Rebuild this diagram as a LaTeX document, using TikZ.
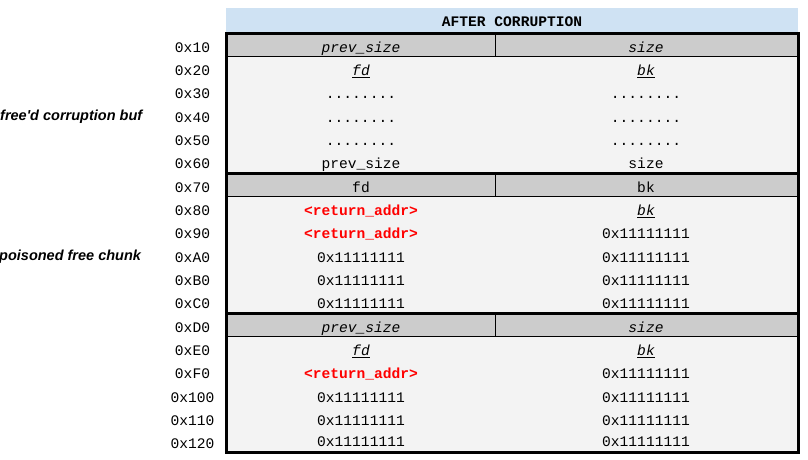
\documentclass[tikz,border=0pt]{standalone}
\usepackage{fontspec}
\setmainfont{Liberation Sans}
\setmonofont{Liberation Mono}
\definecolor{hdrblue}{HTML}{CFE2F3}
\definecolor{hdrgray}{HTML}{CCCCCC}
\definecolor{cellgray}{HTML}{F3F3F3}
\definecolor{retred}{HTML}{FF0000}
\begin{document}
\begin{tikzpicture}[x=1pt,y=-1pt,
  mono/.style={font=\fontsize{14.6}{16}\selectfont\ttfamily, inner sep=0pt, anchor=base},
  ret/.style={mono, font=\fontsize{14.6}{16}\selectfont\ttfamily\bfseries, text=retred},
  side/.style={font=\fontsize{14.5}{16}\selectfont\bfseries\itshape, inner sep=0pt, anchor=base west},
  thin/.style={line width=1pt},
  thick/.style={line width=3pt}]
\useasboundingbox (0,0) rectangle (808,459);
% header
\fill[hdrblue] (226,8) rectangle (798,32);
\node[mono, font=\fontsize{14.6}{16}\selectfont\ttfamily\bfseries] (title) at (512,26) {AFTER CORRUPTION};
% cells background
\fill[cellgray] (227,33) rectangle (797,453);
% gray header rows
\fill[hdrgray] (227,33) rectangle (797,56.3);
\fill[hdrgray] (227,173) rectangle (797,196.3);
\fill[hdrgray] (227,313) rectangle (797,336.3);
% thin lines
\draw[thin] (227,56.3) -- (797,56.3);
\draw[thin] (227,196.3) -- (797,196.3);
\draw[thin] (227,336.3) -- (797,336.3);
\draw[thin] (495.5,33) -- (495.5,56.3);
\draw[thin] (495.5,173) -- (495.5,196.3);
\draw[thin] (495.5,313) -- (495.5,336.3);
% chunk separators and border
\draw[thick] (226,173) -- (798,173);
\draw[thick] (226,313) -- (798,313);
\draw[thick] (226,33) rectangle (798,452.5);
% addresses
\foreach \a [count=\i from 0] in {0x10,0x20,0x30,0x40,0x50,0x60,0x70,0x80,0x90,0xA0,0xB0,0xC0,0xD0,0xE0,0xF0,0x100,0x110,0x120}{
  \node[mono, anchor=base] (addr\i) at (192.5,{33+23.33*(\i+0.5)+7.5}) {\a};
}
% side labels
\node[side] (lab1) at (0,120) {free\textquotesingle d corruption buf};
\node[side] (lab2) at (-1,260.5) {poisoned free chunk};
% cells
\def\rowy#1{33+23.33*(#1+0.5)+7.5}
\node[mono] (l0) at (361,{\rowy{0}}) {\itshape prev\_size};
\node[mono] (r0) at (646,{\rowy{0}}) {\itshape size};
\node[mono] (l1) at (361,{\rowy{1}}) {\itshape\underline{fd}};
\node[mono] (r1) at (646,{\rowy{1}}) {\itshape\underline{bk}};
\node[mono] (l2) at (361,{\rowy{2}}) {........};
\node[mono] (r2) at (646,{\rowy{2}}) {........};
\node[mono] (l3) at (361,{\rowy{3}}) {........};
\node[mono] (r3) at (646,{\rowy{3}}) {........};
\node[mono] (l4) at (361,{\rowy{4}}) {........};
\node[mono] (r4) at (646,{\rowy{4}}) {........};
\node[mono] (l5) at (361,{\rowy{5}}) {prev\_size};
\node[mono] (r5) at (646,{\rowy{5}}) {size};
\node[mono] (l6) at (361,{\rowy{6}}) {fd};
\node[mono] (r6) at (646,{\rowy{6}}) {bk};
\node[ret]  (l7) at (361,{\rowy{7}}) {<return\_addr>};
\node[mono] (r7) at (646,{\rowy{7}}) {\itshape\underline{bk}};
\node[ret]  (l8) at (361,{\rowy{8}}) {<return\_addr>};
\node[mono] (r8) at (646,{\rowy{8}}) {0x11111111};
\node[mono] (l9) at (361,{\rowy{9}}) {0x11111111};
\node[mono] (r9) at (646,{\rowy{9}}) {0x11111111};
\node[mono] (l10) at (361,{\rowy{10}}) {0x11111111};
\node[mono] (r10) at (646,{\rowy{10}}) {0x11111111};
\node[mono] (l11) at (361,{\rowy{11}}) {0x11111111};
\node[mono] (r11) at (646,{\rowy{11}}) {0x11111111};
\node[mono] (l12) at (361,{\rowy{12}}) {\itshape prev\_size};
\node[mono] (r12) at (646,{\rowy{12}}) {\itshape size};
\node[mono] (l13) at (361,{\rowy{13}}) {\itshape\underline{fd}};
\node[mono] (r13) at (646,{\rowy{13}}) {\itshape\underline{bk}};
\node[ret]  (l14) at (361,{\rowy{14}}) {<return\_addr>};
\node[mono] (r14) at (646,{\rowy{14}}) {0x11111111};
\node[mono] (l15) at (361,{\rowy{15}}) {0x11111111};
\node[mono] (r15) at (646,{\rowy{15}}) {0x11111111};
\node[mono] (l16) at (361,{\rowy{16}}) {0x11111111};
\node[mono] (r16) at (646,{\rowy{16}}) {0x11111111};
\node[mono] (l17) at (361,{\rowy{17}-2}) {0x11111111};
\node[mono] (r17) at (646,{\rowy{17}-2}) {0x11111111};
\end{tikzpicture}
\end{document}
